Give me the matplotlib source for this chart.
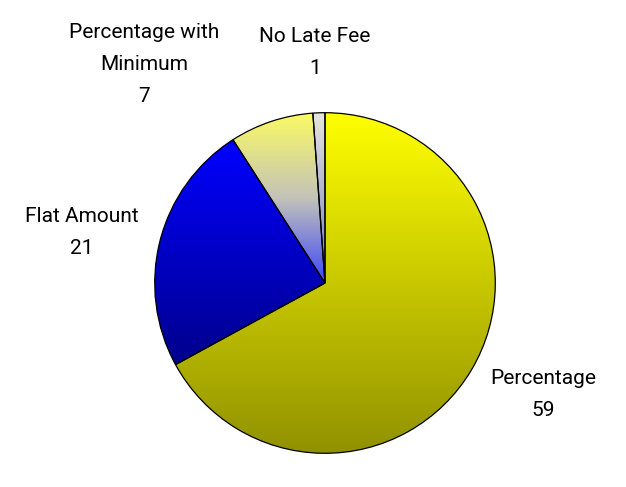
import numpy as np
import matplotlib
matplotlib.use('Agg')
import matplotlib.pyplot as plt

# Late fee types and counts
categories = ['Percentage', 'Flat Amount', 'Percentage with\nMinimum', 'No Late Fee']
counts = [59, 21, 7, 1]

# vertical gradient stops per slice (top -> bottom)
gradients = [
    [(255, 255, 0), (145, 145, 0)],
    [(0, 0, 255), (0, 0, 140)],
    [(250, 250, 100), (195, 195, 185), (60, 70, 250)],
    [(230, 230, 220), (120, 120, 200)],
]

# label anchor positions in pixels (x, top y of first line)
label_px = [(543, 369), (82, 207), (144, 23), (315, 27)]

W, H = 626, 487
fig = plt.figure(figsize=(W / 100, H / 100), dpi=100)
cx, cy, r = 325, 283, 172
ax = fig.add_axes([(cx - r) / W, (H - cy - r) / H, 2 * r / W, 2 * r / H])

wedges, _ = ax.pie(counts, startangle=90, counterclock=False, radius=1,
                   colors=['none'] * len(counts),
                   wedgeprops=dict(edgecolor='black', linewidth=0.9))

for w, stops in zip(wedges, gradients):
    w.set_zorder(3)
    ys = w.get_path().transformed(w.get_patch_transform()).vertices[:, 1]
    ymin, ymax = ys.min(), ys.max()
    stops = np.array(stops) / 255.0
    t = np.linspace(0, 1, 256)
    pos = np.linspace(0, 1, len(stops))
    grad = np.stack([np.interp(t, pos, stops[:, k]) for k in range(3)], axis=1)
    img = ax.imshow(grad[:, None, :], extent=[-1, 1, ymin, ymax], origin='upper',
                    aspect='auto', zorder=2, interpolation='bilinear')
    img.set_clip_path(w)

ax.set_xlim(-1.01, 1.01)
ax.set_ylim(-1.01, 1.01)
ax.set_aspect('equal')
ax.axis('off')

for name, n, (px, py) in zip(categories, counts, label_px):
    fig.text(px / W, 1 - py / H, f'{name}\n{n}', ha='center', va='top',
             fontsize=15, family=['Roboto', 'DejaVu Sans'],
             linespacing=1.85)

fig.savefig('out.png', dpi=100)
